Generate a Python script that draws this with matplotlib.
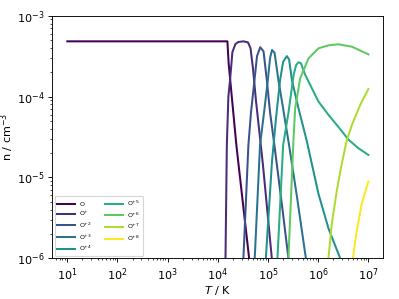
import numpy as np
import matplotlib
matplotlib.use("Agg")
import matplotlib.pyplot as plt

# temperature (K) and number density (cm^-3), one pair per ion
T_O = [1e1, 1.55e4, 1.64e4, 2.34e4, 4.2e4, 4.8e4]
n_O = [4.82e-4, 4.82e-4, 2.58e-4, 2.5e-5, 1.0e-6, 5.0e-7]

T_O1 = [1.38e4, 1.42e4, 1.51e4, 1.62e4, 1.75e4, 1.95e4, 2.24e4, 2.57e4, 3.23e4, 3.98e4,
        4.47e4, 5.01e4, 5.75e4, 7.94e4, 1.19e5, 1.30e5]
n_O1 = [5.0e-7, 1.0e-6, 2.5e-5, 1.0e-4, 1.6e-4, 3.55e-4, 4.47e-4, 4.73e-4, 4.82e-4, 4.68e-4,
        3.98e-4, 2.24e-4, 8.9e-5, 1.41e-5, 1.0e-6, 5.0e-7]

T_O2 = [3.1e4, 3.23e4, 4.06e4, 4.57e4, 5.37e4, 6.03e4, 6.97e4, 8.13e4, 9.46e4, 1.10e5,
        1.34e5, 1.9e5, 2.55e5, 2.8e5]
n_O2 = [5.0e-7, 1.0e-6, 2.5e-5, 6.3e-5, 1.6e-4, 3.16e-4, 4.07e-4, 3.63e-4, 1.6e-4, 6.3e-5,
        2.5e-5, 4.5e-6, 1.0e-6, 5.0e-7]

T_O3 = [5.2e4, 5.43e4, 6.92e4, 8.51e4, 9.91e4, 1.10e5, 1.20e5, 1.35e5, 1.61e5, 2.0e5,
        2.63e5, 3.8e5, 5.68e5, 6.2e5]
n_O3 = [5.0e-7, 1.0e-6, 2.5e-5, 7.1e-5, 1.6e-4, 3.02e-4, 3.77e-4, 3.47e-4, 1.6e-4, 7.1e-5,
        2.5e-5, 5.6e-6, 1.0e-6, 5.0e-7]

T_O4 = [8.7e4, 9.04e4, 1.2e5, 1.45e5, 1.74e5, 2.0e5, 2.37e5, 2.63e5, 2.99e5, 4.04e5,
        5.94e5, 1.01e6, 1.6e6, 2.74e6, 3.1e6]
n_O4 = [5.0e-7, 1.0e-6, 1.58e-5, 5.6e-5, 1.6e-4, 2.69e-4, 3.16e-4, 2.88e-4, 1.6e-4, 7.2e-5,
        2.8e-5, 6.3e-6, 2.35e-6, 1.0e-6, 8.0e-7]

T_O5 = [1.48e5, 1.54e5, 2.0e5, 2.57e5, 3.24e5, 3.63e5, 4.04e5, 4.5e5, 5.5e5, 1.01e6,
        1.58e6, 2.54e6, 3.98e6, 6.31e6, 1e7]
n_O5 = [5.0e-7, 1.0e-6, 2.5e-5, 6.5e-5, 1.86e-4, 2.45e-4, 2.65e-4, 2.6e-4, 1.86e-4, 8.7e-5,
        6.0e-5, 4.2e-5, 2.95e-5, 2.3e-5, 1.9e-5]

T_O6 = [2.45e5, 2.55e5, 3.21e5, 3.48e5, 4.37e5, 6.4e5, 1.01e6, 1.6e6, 2.54e6, 4.69e6, 1e7]
n_O6 = [5.0e-7, 1.0e-6, 2.9e-5, 7.2e-5, 1.68e-4, 2.97e-4, 3.95e-4, 4.3e-4, 4.43e-4, 4.14e-4, 3.33e-4]

T_O7 = [1.55e6, 1.6e6, 1.87e6, 2.36e6, 2.96e6, 3.72e6, 4.69e6, 6.87e6, 1e7]
n_O7 = [5.0e-7, 1.0e-6, 2.7e-6, 7.0e-6, 1.5e-5, 2.9e-5, 4.45e-5, 7.9e-5, 1.24e-4]

T_O8 = [4.7e6, 4.9e6, 5.9e6, 7.41e6, 1e7]
n_O8 = [5.0e-7, 1.0e-6, 2.24e-6, 4.8e-6, 8.9e-6]

temps = [T_O, T_O1, T_O2, T_O3, T_O4, T_O5, T_O6, T_O7, T_O8]
dens = [n_O, n_O1, n_O2, n_O3, n_O4, n_O5, n_O6, n_O7, n_O8]
labels = ['O', 'O$^{+}$', 'O$^{+2}$', 'O$^{+3}$', 'O$^{+4}$',
          'O$^{+5}$', 'O$^{+6}$', 'O$^{+7}$', 'O$^{+8}$']

colors = plt.cm.viridis(np.linspace(0, 1, len(labels)))

DPI = 81
fig = plt.figure(figsize=(399 / DPI, 299 / DPI), dpi=DPI)
ax = fig.add_axes([0.131, 0.136, 0.83, 0.8115])

for T, n, lab, c in zip(temps, dens, labels, colors):
    ax.plot(T, n, color=c, linewidth=1.8, label=lab)

ax.set_xscale('log')
ax.set_yscale('log')
ax.set_xlim(10 ** 0.7, 10 ** 7.3)
ax.set_ylim(1e-6, 1e-3)
ax.set_xlabel('$T$ / K', labelpad=1)
ax.set_ylabel('n / cm$^{-3}$')
ax.yaxis.set_label_coords(-0.11, 0.5)
ax.legend(loc='lower left', ncol=2, fontsize=5.5, labelspacing=0.4,
          handlelength=2.9, handletextpad=0.7, columnspacing=2.0,
          borderaxespad=0.4)

fig.savefig('out.png', dpi=DPI)
